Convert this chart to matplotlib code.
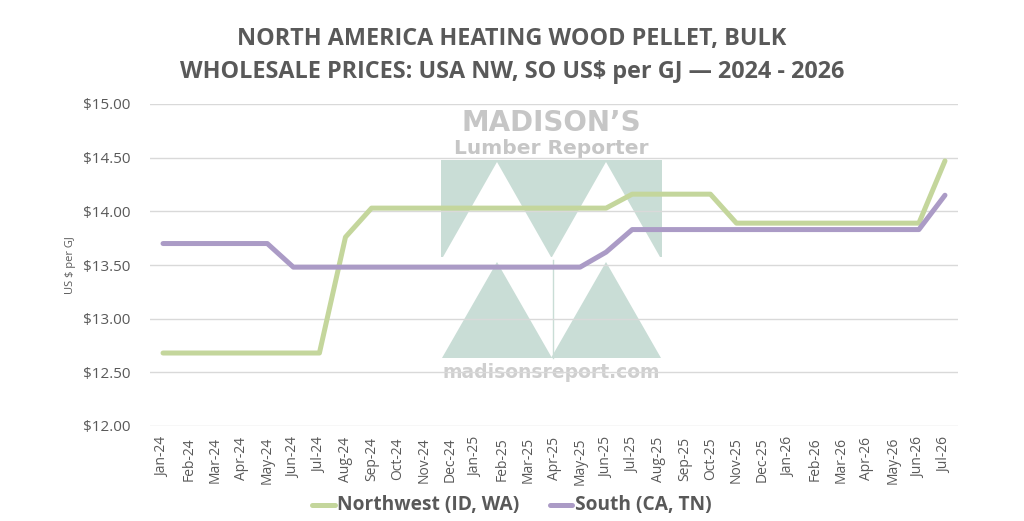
import matplotlib
matplotlib.use("Agg")
import matplotlib.pyplot as plt
from matplotlib.patches import Polygon, Rectangle

months = ["Jan-24", "Feb-24", "Mar-24", "Apr-24", "May-24", "Jun-24", "Jul-24", "Aug-24",
          "Sep-24", "Oct-24", "Nov-24", "Dec-24", "Jan-25", "Feb-25", "Mar-25", "Apr-25",
          "May-25", "Jun-25", "Jul-25", "Aug-25", "Sep-25", "Oct-25", "Nov-25", "Dec-25",
          "Jan-26", "Feb-26", "Mar-26", "Apr-26", "May-26", "Jun-26", "Jul-26"]

northwest = [12.68, 12.68, 12.68, 12.68, 12.68, 12.68, 12.68, 13.76,
             14.03, 14.03, 14.03, 14.03, 14.03, 14.03, 14.03, 14.03,
             14.03, 14.03, 14.16, 14.16, 14.16, 14.16, 13.89, 13.89,
             13.89, 13.89, 13.89, 13.89, 13.89, 13.89, 14.47]

south = [13.70, 13.70, 13.70, 13.70, 13.70, 13.48, 13.48, 13.48,
         13.48, 13.48, 13.48, 13.48, 13.48, 13.48, 13.48, 13.48,
         13.48, 13.62, 13.83, 13.83, 13.83, 13.83, 13.83, 13.83,
         13.83, 13.83, 13.83, 13.83, 13.83, 13.83, 14.15]

yticks = [12.0, 12.5, 13.0, 13.5, 14.0, 14.5, 15.0]

plt.rcParams['font.family'] = ['Open Sans', 'DejaVu Sans']
gray = '#595959'

fig = plt.figure(figsize=(10.24, 5.21), dpi=100)

# watermark (logo) behind the plot, drawn in pixel-like coordinates
wm = fig.add_axes([441 / 1024, 1 - 385 / 521, 221 / 1024, 275 / 521], zorder=0)
wm.set_xlim(0, 221)
wm.set_ylim(275, 0)
wm.axis('off')
wm_green = '#c9ddd6'
wm.add_patch(Rectangle((0, 50), 221, 97, color=wm_green, lw=0))
for cx in (56, 165):
    wm.add_patch(Polygon([(cx - 54, 147), (cx, 52), (cx + 54, 147)], closed=True, color='white', lw=0))
    wm.add_patch(Polygon([(cx - 55, 248), (cx, 152), (cx + 55, 248)], closed=True, color=wm_green, lw=0))
wm.plot([112, 112], [150, 248], color=wm_green, lw=1)
wm.text(110.5, 13, "MADISON\u2019S", ha='center', va='center', fontsize=20,
        fontweight='bold', color='#c6c6c6', family=['DejaVu Sans'])
wm.text(110.5, 38, "Lumber Reporter", ha='center', va='center', fontsize=14.5,
        fontweight='bold', color='#c6c6c6', family=['DejaVu Sans'])
wm.text(110.5, 263, "madisonsreport.com", ha='center', va='center', fontsize=13.5,
        fontweight='bold', color='#cfcfcf', family=['DejaVu Sans'])

ax = fig.add_axes([150 / 1024, 1 - 426 / 521, 808 / 1024, 322 / 521], zorder=1)
ax.patch.set_alpha(0)

x = range(len(months))
ax.plot(x, northwest, color='#c4d69c', lw=3.6, solid_capstyle='round',
        solid_joinstyle='round', label='Northwest (ID, WA)', zorder=3)
ax.plot(x, south, color='#ab9bc6', lw=3.6, solid_capstyle='round',
        solid_joinstyle='round', label='South (CA, TN)', zorder=3)

ax.set_xlim(-0.5, len(months) - 0.5)
ax.set_ylim(12, 15)
ax.set_yticks(yticks)
ax.set_yticklabels(["${:.2f}".format(v) for v in yticks], fontsize=11, color=gray)
ax.set_xticks(list(x))
ax.set_xticklabels(months, rotation=90, fontsize=10, color=gray)
ax.tick_params(axis='both', length=0)
ax.tick_params(axis='y', pad=14)
ax.tick_params(axis='x', pad=8)
ax.grid(axis='y', color='#d9d9d9', lw=1)
ax.set_axisbelow(True)
for s in ax.spines.values():
    s.set_visible(False)

fig.text(70 / 1024, 1 - 265 / 521, "US $ per GJ", rotation=90, ha='center', va='center',
         fontsize=8, color=gray)

fig.text(0.5, 1 - 56 / 521,
         "NORTH AMERICA HEATING WOOD PELLET, BULK\nWHOLESALE PRICES: USA NW, SO US$ per GJ \u2014 2024 - 2026",
         ha='center', va='center', fontsize=16.8, fontweight='bold', color=gray, linespacing=1.5)

leg = fig.legend(loc='center', bbox_to_anchor=(0.5, 1 - 505 / 521), ncol=2, frameon=False,
                 handlelength=1.6, columnspacing=2.2, handletextpad=0.2)
for t in leg.get_texts():
    t.set_fontsize(13.8)
    t.set_fontweight('bold')
    t.set_color(gray)

fig.savefig('out.png', dpi=100)
